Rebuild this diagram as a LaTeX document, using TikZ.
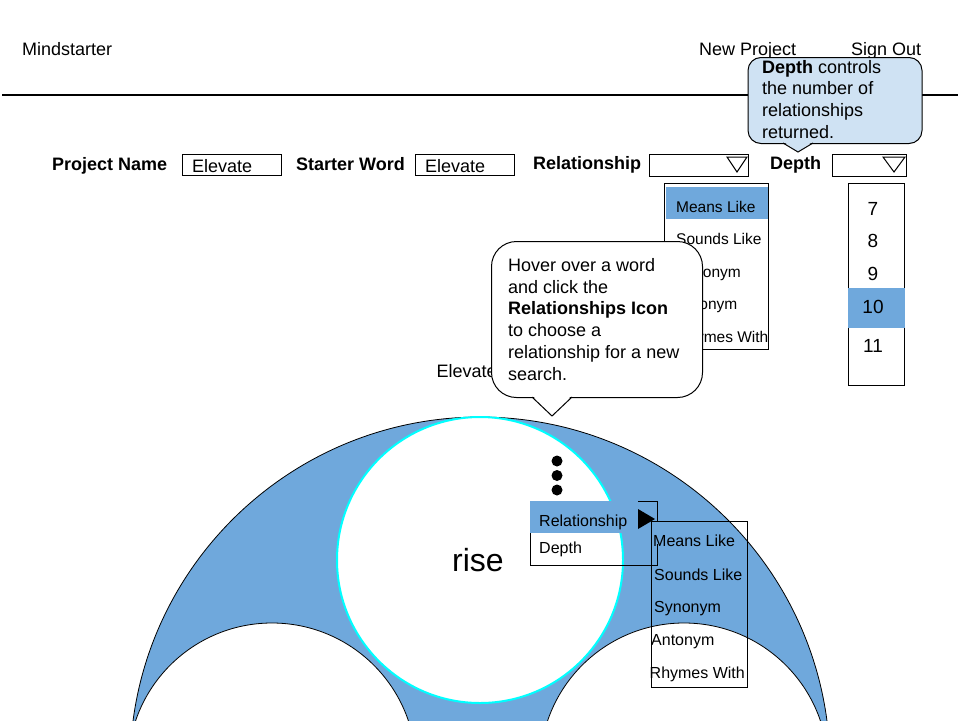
\documentclass[tikz,border=0pt]{standalone}
\usepackage{fontspec}
\setmainfont{Liberation Sans}
\definecolor{selblue}{HTML}{6FA8DC}
\definecolor{tipblue}{HTML}{CFE2F3}
\definecolor{ringcyan}{HTML}{00FFFF}
\newcommand\fsz[2]{\fontsize{#1}{#2}\selectfont}
\begin{document}
\begin{tikzpicture}[x=1pt,y=-1pt,
  txt/.style={anchor=base west, inner sep=0pt, font=\fsz{18}{22}},
  btxt/.style={anchor=base west, inner sep=0pt, font=\fsz{18}{22}\bfseries},
  mtxt/.style={anchor=base west, inner sep=0pt, font=\fsz{16}{19}},
  ltxt/.style={anchor=base west, inner sep=0pt, font=\fsz{15.5}{19}},
  numtxt/.style={anchor=base, inner sep=0pt, font=\fsz{19}{22}},
  box/.style={draw=black, line width=1pt, inner sep=0pt, anchor=north west},
  hilite/.style={fill=selblue, draw=none, inner sep=0pt, anchor=north west},
  dotnode/.style={circle, fill=black, draw=none, minimum size=11pt, inner sep=0pt},
  wordcircle/.style={circle, draw=black, line width=0.8pt, fill=white, minimum size=288pt, inner sep=0pt},
]
\useasboundingbox (0,0) rectangle (960,720);
\clip (0,0) rectangle (960,720);

% header
\node[txt] (brand) at (22,55) {Mindstarter};
\node[txt] (newproj) at (699,55) {New Project};
\node[txt] (signout) at (851,55) {Sign Out};
\coordinate (hl) at (2,95);
\coordinate (hr) at (958,95);
\draw[line width=1.2pt] (hl) -- (hr);

% depth callout
\node[box, fill=tipblue, rounded corners=13pt, minimum width=174pt, minimum height=86pt] (depthtip) at (747.5,57) {};
\fill[tipblue] (783.5,141.8) -- (798,152) -- (812.5,141.8) -- cycle;
\draw[line width=1pt] (783,143) -- (798,152) -- (813,143);
\node[anchor=north west, inner sep=0pt, align=left, font=\fsz{18}{21.7}] (depthtxt) at (762,60)
  {\textbf{Depth} controls\\the number of\\relationships\\returned.};

% form row
\node[btxt] (pnlbl) at (52,170) {Project Name};
\node[box, minimum width=99pt, minimum height=21pt] (pnbox) at (182,154) {};
\node[txt] (pnval) at (192,172) {Elevate};
\node[btxt] (swlbl) at (296,170) {Starter Word};
\node[box, minimum width=99pt, minimum height=21pt] (swbox) at (415,154) {};
\node[txt] (swval) at (425,172) {Elevate};
\node[btxt] (rllbl) at (533,169) {Relationship};
\node[box, minimum width=99pt, minimum height=22pt] (rlbox) at (649,154) {};
\draw[line width=1pt] (727,157) -- (747,157) -- (737,172) -- cycle;
\node[btxt] (dplbl) at (770,169) {Depth};
\node[box, minimum width=74pt, minimum height=22pt] (dpbox) at (832,154) {};
\draw[line width=1pt] (883,157) -- (905,157) -- (894,172) -- cycle;

% relationship dropdown list
\node[box, minimum width=104pt, minimum height=166pt] (rllist) at (664,183) {};
\node[hilite, minimum width=102pt, minimum height=32pt] (rlsel) at (666,187) {};
\node[ltxt] (rl1) at (676,212) {Means Like};
\node[ltxt] (rl2) at (676,244.5) {Sounds Like};
\node[ltxt] (rl3) at (676,277) {Synonym};
\node[ltxt] (rl4) at (676,309.5) {Antonym};
\node[ltxt] (rl5) at (676,342) {Rhymes With};

% depth dropdown list
\node[box, minimum width=56pt, minimum height=202pt] (dplist) at (848,183) {};
\node[hilite, minimum width=57pt, minimum height=40pt] (dpsel) at (847.5,288) {};
\node[numtxt] (d7) at (873,215) {7};
\node[numtxt] (d8) at (873,247.5) {8};
\node[numtxt] (d9) at (873,280) {9};
\node[numtxt] (d10) at (873,313.5) {10};
\node[numtxt] (d11) at (873,352) {11};

% root label
\node[txt] (rootlbl) at (436.5,377) {Elevate};

% hover callout
\node[box, fill=white, rounded corners=25pt, minimum width=211pt, minimum height=156pt] (hovertip) at (491,241) {};
\fill[white] (532.5,395.6) -- (552,416) -- (571.5,395.6) -- cycle;
\draw[line width=1pt] (532,397) -- (552,416) -- (572,397);
\node[anchor=north west, inner sep=0pt, align=left, font=\fsz{18}{21.8}] (hovertxt) at (508,258)
  {Hover over a word\\and click the\\\textbf{Relationships Icon}\\to choose a\\relationship for a new\\search.};

% word circles
\node[circle, draw=black, line width=0.8pt, fill=selblue, minimum size=700pt, inner sep=0pt] (outer) at (480,767) {};
\node[wordcircle] (leftkid) at (272,767) {};
\node[wordcircle] (rightkid) at (684,767) {};
\node[wordcircle, draw=ringcyan, line width=2pt, minimum size=286pt] (center) at (480,560) {};
\node[anchor=base, inner sep=0pt, font=\fsz{32}{36}] (rootword) at (478,571) {rise};

% relationships icon
\node[dotnode] (dot1) at (557,461) {};
\node[dotnode] (dot2) at (557,475.5) {};
\node[dotnode] (dot3) at (557,490) {};

% context menu
\node[box, minimum width=127pt, minimum height=64pt] (ctxmenu) at (530,501) {};
\node[hilite, minimum width=108.5pt, minimum height=32.5pt] (ctxsel) at (529.5,500.5) {};
\fill[black] (638,509) -- (655,519) -- (638,529) -- cycle;
\fill[selblue] (652,522) rectangle (661,544);
\node[mtxt] (ctx1) at (539,526) {Relationship};
\node[mtxt] (ctx2) at (539,553) {Depth};

% submenu
\node[box, minimum width=96pt, minimum height=166pt] (submenu) at (651,521) {};
\node[mtxt] (sm1) at (653,546.7) {Means Like};
\node[mtxt] (sm2) at (654,580) {Sounds Like};
\node[mtxt] (sm3) at (654,612) {Synonym};
\node[mtxt] (sm4) at (651,645) {Antonym};
\node[mtxt] (sm5) at (649.5,678) {Rhymes With};
\end{tikzpicture}
\end{document}
